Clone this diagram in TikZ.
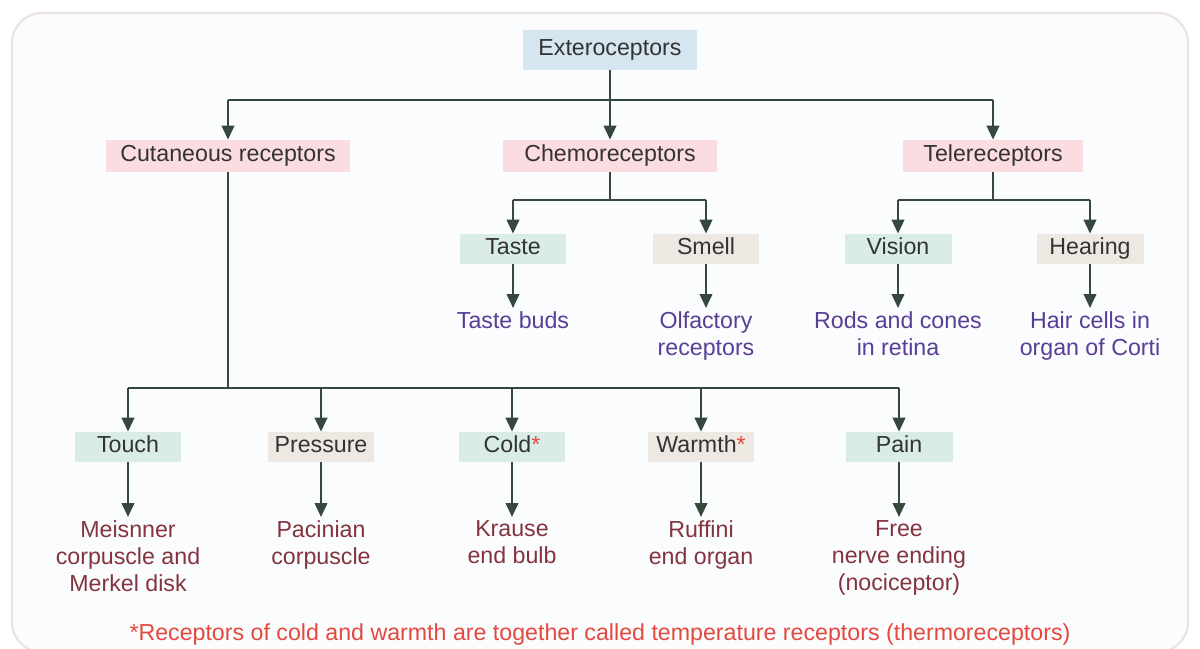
\documentclass[tikz,border=0pt]{standalone}
\usepackage{fontspec}
\setmainfont{Liberation Sans}
\usetikzlibrary{arrows.meta,positioning,calc}
\definecolor{ec}{RGB}{214,230,241}
\definecolor{pc}{RGB}{251,220,224}
\definecolor{tc}{RGB}{218,236,232}
\definecolor{bc}{RGB}{237,233,226}
\definecolor{wc}{RGB}{52,72,62}
\definecolor{vc}{RGB}{88,62,150}
\definecolor{mc}{RGB}{132,52,62}
\definecolor{fc}{RGB}{228,72,62}
\definecolor{frc}{RGB}{236,226,229}
\definecolor{bg}{RGB}{251,252,253}
\tikzset{r/.style={fill=pc,inner sep=0pt,minimum height=6.4mm,text=black!80,text height=.74em,text depth=.1em},
 e/.style={r,fill=ec,minimum width=35mm,minimum height=8mm},
 t/.style={r,fill=tc,minimum width=21.4mm,minimum height=6mm},
 b/.style={t,fill=bc},
 sen/.style={align=center,text=vc,inner sep=2pt,anchor=north},
 org/.style={align=center,text=mc,inner sep=2pt,anchor=north},
 wire/.style={draw=wc,line width=1.3pt},
 arr/.style={wire,-{Triangle[length=2.8mm,width=2.5mm]}},
 every node/.style={font=\fontsize{13.2}{15.2}\selectfont}}

\begin{document}
\begin{tikzpicture}[x=0.02cm,y=-0.02cm]
\fill[white] (0,0) rectangle (1200,649);
\useasboundingbox (0,0) rectangle (1200,649);
\draw[frc,fill=bg,line width=1.2pt,rounded corners=6mm] (12,13) rectangle (1188,652);
\node[e] (ext) at (610,50) {Exteroceptors};
\node[r,minimum width=49mm] (cut) at (228,156) {Cutaneous receptors};
\node[r,minimum width=43mm] (chem) at (610,156) {Chemoreceptors};
\node[r,minimum width=36mm] (tel) at (993,156) {Telereceptors};
\node[t] (taste) at (513,249) {Taste};
\node[b] (smell) at (706,249) {Smell};
\node[t] (vis) at (898,249) {Vision};
\node[b] (hear) at (1090,249) {Hearing};
\node[sen] (buds) at (513,308) {Taste buds};
\node[sen] (olf) at (706,308) {Olfactory\\receptors};
\node[sen] (rods) at (898,308) {Rods and cones\\in retina};
\node[sen] (hair) at (1090,308) {Hair cells in\\organ of Corti};
\node[t] (touch) at (128,447) {Touch};
\node[b] (press) at (321,447) {Pressure};
\node[t] (cold) at (512,447) {Cold\textcolor{fc}{*}};
\node[b] (warm) at (701,447) {Warmth\textcolor{fc}{*}};
\node[t] (pain) at (899,447) {Pain};
\node[org] (meis) at (128,517) {Meisnner\\corpuscle and\\Merkel disk};
\node[org] (paci) at (321,517) {Pacinian\\corpuscle};
\node[org] (krau) at (512,517) {Krause\\end bulb};
\node[org] (ruff) at (701,517) {Ruffini\\end organ};
\node[org] (free) at (899,517) {Free\\nerve ending\\(nociceptor)};
\node[text=fc] (note) at (600,634) {*Receptors of cold and warmth are together called temperature receptors (thermoreceptors)};
% buses
\coordinate (busA) at (610,100);
\coordinate (busC) at (610,200);
\coordinate (busT) at (993,200);
\coordinate (busK) at (228,388);
\draw[wire] (cut.north |- busA) -- (tel.north |- busA);
\draw[arr] (ext) -- (chem);
\foreach \a in {cut,tel}{\draw[arr] (\a.north |- busA) -- (\a.north);}
\draw[wire] (chem) -- (busC);
\draw[wire] (taste.north |- busC) -- (smell.north |- busC);
\draw[wire] (tel) -- (busT);
\draw[wire] (vis.north |- busT) -- (hear.north |- busT);
\foreach \a in {taste,smell,vis,hear}{\draw[arr] (\a.north |- busC) -- (\a.north);}
\draw[wire] (cut) -- (busK);
\draw[wire] (touch.north |- busK) -- (pain.north |- busK);
\foreach \a in {touch,press,cold,warm,pain}{\draw[arr] (\a.north |- busK) -- (\a.north);}
\foreach \a/\b in {taste/buds,smell/olf,vis/rods,hear/hair,touch/meis,press/paci,cold/krau,warm/ruff,pain/free}{\draw[arr] (\a)--(\b);}
\end{tikzpicture}
\end{document}
